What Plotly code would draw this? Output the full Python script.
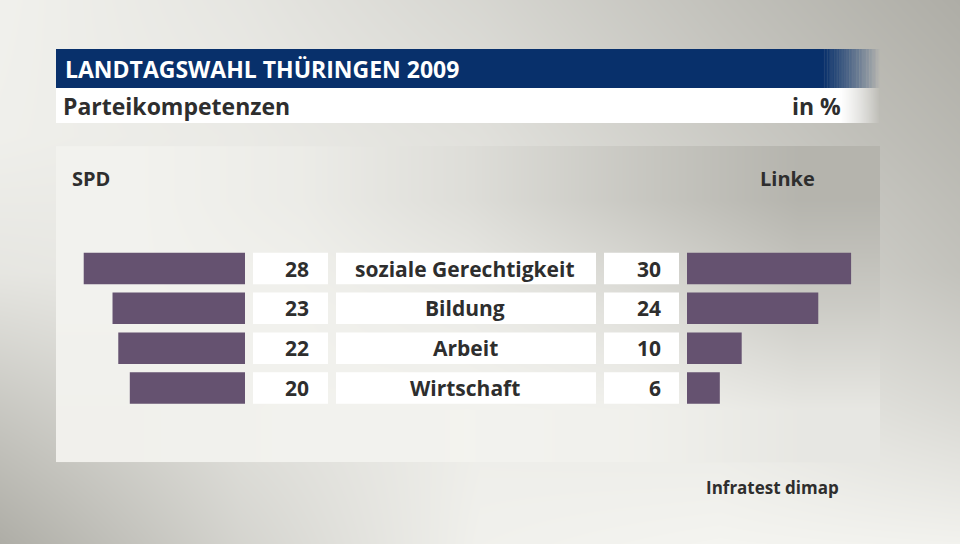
import plotly.graph_objects as go

# data
categories = ["soziale Gerechtigkeit", "Bildung", "Arbeit", "Wirtschaft"]
spd = [28, 23, 22, 20]
linke = [30, 24, 10, 6]

title = "LANDTAGSWAHL THÜRINGEN 2009"
subtitle = "Parteikompetenzen"
unit = "in %"
source = "Infratest dimap"

W, H = 960, 544
bar_color = "#655270"
text_color = "#2e2e2e"
font = "Open Sans"

# background shading (brightness 0..1)
bg_x = [0, 240, 480, 720, 960]
bg_y = [0, 136, 272, 408, 544]
bg_z = [[0.95, 0.80, 0.58, 0.28, 0.00],
        [0.93, 0.86, 0.72, 0.42, 0.15],
        [0.80, 0.86, 0.82, 0.60, 0.30],
        [0.38, 0.72, 0.90, 0.85, 0.62],
        [0.00, 0.55, 0.95, 1.00, 0.97]]
panel_x = [138.4, 303.2, 468, 632.8, 797.6]
panel_y = [198.7, 304, 409.3]
panel_z = [[0.97, 0.88, 0.68, 0.38, 0.10],
           [0.97, 0.95, 0.88, 0.70, 0.42],
           [0.95, 0.97, 0.98, 0.95, 0.82]]
gray_scale = [[0, "#aeada6"], [1, "#f4f4f0"]]

fig = go.Figure()

fig.add_trace(go.Heatmap(x=bg_x, y=bg_y, z=bg_z, colorscale=gray_scale, zmin=0, zmax=1,
                         zsmooth="best", showscale=False, hoverinfo="skip",
                         xaxis="x", yaxis="y"))
fig.add_trace(go.Heatmap(x=panel_x, y=panel_y, z=panel_z, colorscale=gray_scale, zmin=0, zmax=1,
                         zsmooth="best", showscale=False, hoverinfo="skip",
                         xaxis="x", yaxis="y"))

rows = list(range(len(categories)))
fig.add_trace(go.Bar(y=rows, x=spd, orientation="h", width=0.79,
                     marker=dict(color=bar_color, line=dict(width=0)),
                     xaxis="x2", yaxis="y2", hoverinfo="skip"))
fig.add_trace(go.Bar(y=rows, x=linke, orientation="h", width=0.79,
                     marker=dict(color=bar_color, line=dict(width=0)),
                     xaxis="x3", yaxis="y2", hoverinfo="skip"))

shapes = []
annotations = []

# title bars with fade to the right
shapes.append(dict(type="rect", xref="x", yref="y", x0=56, x1=823, y0=49, y1=88,
                   fillcolor="#08306b", line_width=0, layer="above"))
shapes.append(dict(type="rect", xref="x", yref="y", x0=56, x1=840, y0=88, y1=123,
                   fillcolor="white", line_width=0, layer="above"))
n = 40
for k in range(n):
    a = 1 - (k + 0.5) / n
    shapes.append(dict(type="rect", xref="x", yref="y",
                       x0=823 + k * 57 / n, x1=823 + (k + 1) * 57 / n + 0.3, y0=49, y1=88,
                       fillcolor="rgba(8,48,107,%.3f)" % a, line_width=0, layer="above"))
    shapes.append(dict(type="rect", xref="x", yref="y",
                       x0=840 + k * 40 / n, x1=840 + (k + 1) * 40 / n + 0.3, y0=88, y1=123,
                       fillcolor="rgba(255,255,255,%.3f)" % a, line_width=0, layer="above"))

annotations.append(dict(text=title, xref="x", yref="y", x=63, y=69, xanchor="left",
                        yanchor="middle", showarrow=False,
                        font=dict(family=font, size=23, color="white", weight="bold")))
annotations.append(dict(text=subtitle, xref="x", yref="y", x=61, y=106, xanchor="left",
                        yanchor="middle", showarrow=False,
                        font=dict(family=font, size=23, color=text_color, weight="bold")))
annotations.append(dict(text=unit, xref="x", yref="y", x=843, y=106, xanchor="right",
                        yanchor="middle", showarrow=False,
                        font=dict(family=font, size=23, color=text_color, weight="bold")))
annotations.append(dict(text="SPD", xref="x", yref="y", x=70, y=178, xanchor="left",
                        yanchor="middle", showarrow=False,
                        font=dict(family=font, size=20, color=text_color, weight="bold")))
annotations.append(dict(text="Linke", xref="x", yref="y", x=817, y=178, xanchor="right",
                        yanchor="middle", showarrow=False,
                        font=dict(family=font, size=20, color=text_color, weight="bold")))
annotations.append(dict(text=source, xref="x", yref="y", x=841, y=487, xanchor="right",
                        yanchor="middle", showarrow=False,
                        font=dict(family=font, size=17, color=text_color, weight="bold")))

# white label boxes per row
for i, cat in enumerate(categories):
    for x0, x1 in [(253, 328), (336, 596), (604, 679)]:
        shapes.append(dict(type="rect", xref="paper", yref="y2", x0=x0 / W, x1=x1 / W,
                           y0=i - 0.395, y1=i + 0.395, fillcolor="white", line_width=0,
                           layer="above"))
    annotations.append(dict(text=str(spd[i]), xref="paper", yref="y2", x=311 / W, y=i,
                            xanchor="right", yanchor="middle", showarrow=False,
                            font=dict(family=font, size=21, color=text_color, weight="bold")))
    annotations.append(dict(text=cat, xref="paper", yref="y2", x=465 / W, y=i,
                            xanchor="center", yanchor="middle", showarrow=False,
                            font=dict(family=font, size=21, color=text_color, weight="bold")))
    annotations.append(dict(text=str(linke[i]), xref="paper", yref="y2", x=663 / W, y=i,
                            xanchor="right", yanchor="middle", showarrow=False,
                            font=dict(family=font, size=21, color=text_color, weight="bold")))

hidden = dict(showgrid=False, zeroline=False, showticklabels=False, ticks="", showline=False,
              fixedrange=True)

fig.update_layout(
    width=W, height=H, margin=dict(l=0, r=0, t=0, b=0),
    paper_bgcolor="#d8d8d2", plot_bgcolor="rgba(0,0,0,0)",
    showlegend=False, barmode="overlay",
    xaxis=dict(domain=[0, 1], range=[0, W], **hidden),
    yaxis=dict(domain=[0, 1], range=[H, 0], **hidden),
    xaxis2=dict(domain=[56 / W, 245 / W], range=[(245 - 56) / 5.76, 0], anchor="y2", **hidden),
    xaxis3=dict(domain=[687 / W, 880 / W], range=[0, (880 - 687) / 5.47], anchor="y2", **hidden),
    yaxis2=dict(domain=[1 - 407.9 / H, 1 - 248.6 / H], range=[3.5, -0.5], anchor="x2", **hidden),
    shapes=shapes, annotations=annotations,
)

# page without the default body margin so the chart fills the window
fig.write_html("out.html", config={"displayModeBar": False},
               post_script="document.body.style.margin='0';document.body.style.overflow='hidden';")
